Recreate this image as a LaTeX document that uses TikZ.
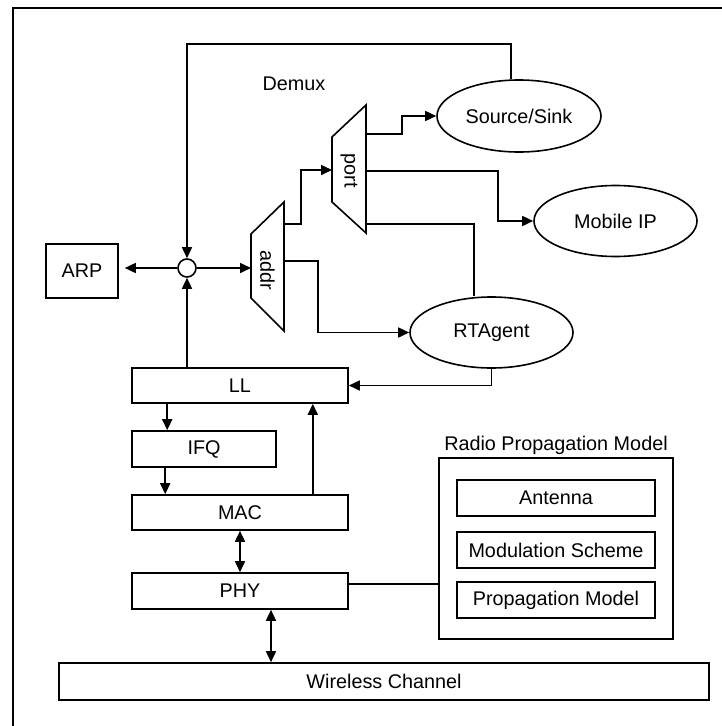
\documentclass[tikz,border=0pt]{standalone}
\usepackage{fontspec}
\setmainfont{Liberation Sans}
\usetikzlibrary{arrows.meta,shapes.geometric}

\begin{document}
\begin{tikzpicture}[x=1pt,y=-1pt,
		every node/.style={font=\fontsize{19.8}{24}\selectfont},
		linha/.style={line width=1.6pt},
		caixa/.style={draw,line width=1.6pt,inner sep=0pt,minimum width=#1,minimum height=36pt},
		caixa/.default=216pt,
		elipse/.style={draw,ellipse,line width=1.6pt,inner sep=0pt,minimum width=163pt,minimum height=71pt},
		arr/.style={-{Triangle[length=11pt,width=10pt]}},
		dbl/.style={{Triangle[length=11pt,width=10pt]}-{Triangle[length=11pt,width=10pt]}}]
		\useasboundingbox (0,0) rectangle (722,726);
		% Moldura
		\draw[line width=2.4pt] (13,728) -- (13,8) -- (724,8);
		
		% Pilha de camadas
		\node[caixa=650pt,minimum height=37pt] (wc) at (384,681.5) {Wireless Channel};
		\node[caixa] (phy) at (240,591) {PHY};
		\node[caixa,minimum height=35pt] (mac) at (240,512.5) {MAC};
		\node[caixa=144pt] (ifq) at (204,449) {IFQ};
		\node[caixa,minimum height=35pt] (ll) at (240,385.5) {LL};
		\node[caixa=72pt,minimum height=54pt] (arp) at (82,271) {ARP};
		
		% Modelo de propagacao
		\node[caixa=234pt,minimum height=181pt] (radio) at (556,548.5) {};
		\node (radiotxt) at (556,445) {Radio Propagation Model};
		\node[caixa=198pt] (ant) at (556,498) {Antenna};
		\node[caixa=198pt] (mod) at (556,550) {Modulation Scheme};
		\node[caixa=198pt] (prop) at (556,600) {Propagation Model};
		
		% Agentes
		\node[elipse,minimum width=164pt,minimum height=72pt] (src) at (519,116) {Source/Sink};
		\node[elipse] (mip) at (615.5,221) {Mobile IP};
		\node[elipse] (rta) at (491.5,332.5) {RTAgent};
		
		% Demux
		\node (demux) at (294,84) {Demux};
		\draw[linha] (251,234) -- (284,202) -- (284,331) -- (251,298) -- cycle;
		\draw[linha] (332,137) -- (366,105) -- (366,233) -- (332,202) -- cycle;
		\node[rotate=-90] (addr) at (267.5,270) {addr};
		\node[rotate=-90] (port) at (349,171) {port};
		\coordinate (addr-in) at (251,268);
		\coordinate (addr-o1) at (284,224);
		\coordinate (addr-o2) at (284,261);
		\coordinate (port-in) at (332,170);
		\coordinate (port-o1) at (366,134);
		\coordinate (port-o2) at (366,171);
		\coordinate (port-o3) at (366,224);
		
		% Juncao
		\node[draw,circle,line width=1.6pt,minimum size=18pt,inner sep=0pt] (jn) at (187,268) {};
		\coordinate (topo) at (187,44);
		
		% Ligacoes
		\draw[linha,arr] ([xshift=-8pt]src.north) |- (topo) -- (jn.north);
		\draw[linha,arr] (jn |- ll.north) -- (jn.south);
		\draw[linha,arr,shorten >=6pt] (jn.west) -- (jn.west -| arp.east);
		\draw[linha,arr] (jn.east) -- (addr-in);
		\draw[linha,arr] (addr-o1) -- ++(17,0) |- (port-in);
		\draw[linha,arr] (addr-o2) -- ++(34,0) |- (rta.west);
		\draw[linha,arr] (port-o1) -- ++(36,0) |- (src.west);
		\draw[linha,arr] (port-o2) -- ++(132,0) |- (mip.west);
		\draw[linha] (port-o3) -| ([xshift=-17.5pt]rta.north);
		\draw[linha,arr] (rta.south) |- (ll.east);
		\draw[linha,arr] ([xshift=36pt]ll.south west) -- ([xshift=36pt]ifq.north west);
		\draw[linha,arr] ([xshift=34pt]ifq.south west) -- ([xshift=34pt]mac.north west);
		\draw[linha,arr] ([xshift=-36pt]mac.north east) -- ([xshift=-36pt]ll.south east);
		\draw[linha,dbl] (mac.south) -- (phy.north);
		\coordinate (pw) at ([xshift=31pt]phy.south);
		\draw[linha,dbl] (pw) -- (pw |- wc.north);
		\coordinate (pr) at ([yshift=7pt]phy.east);
		\draw[linha] (pr) -- (pr -| radio.west);
\end{tikzpicture}
\end{document}
